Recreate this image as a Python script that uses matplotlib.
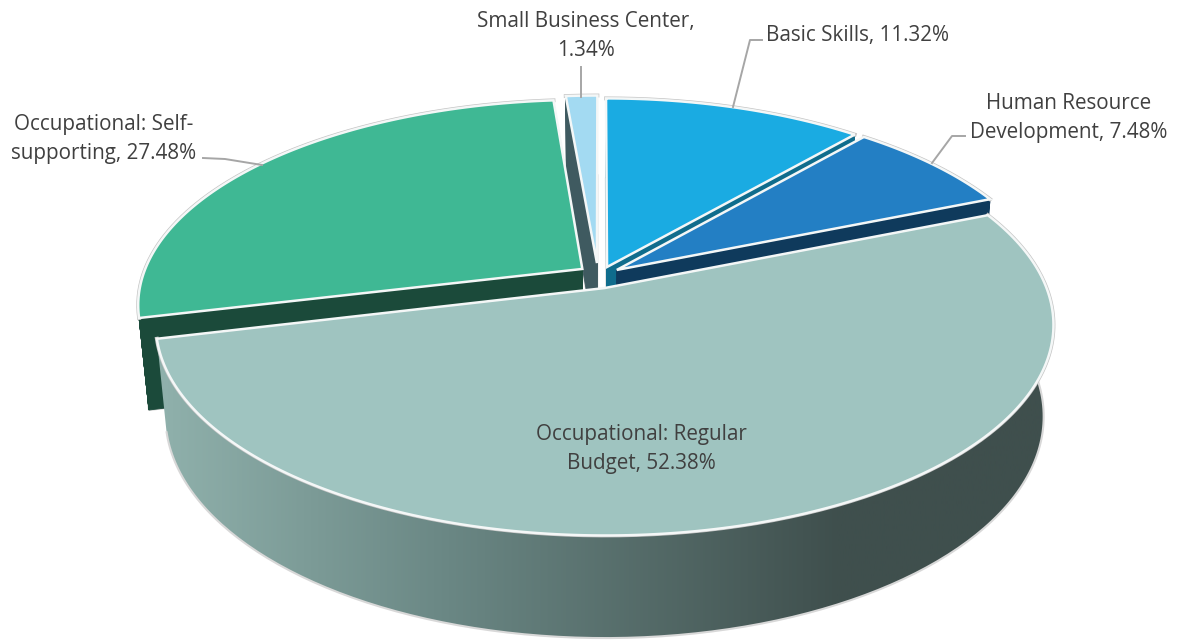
import numpy as np
import matplotlib
matplotlib.use("Agg")
import matplotlib.pyplot as plt
from matplotlib.patches import Polygon
from matplotlib.colors import LinearSegmentedColormap

# Data
categories = ["Basic Skills", "Human Resource Development", "Occupational: Regular Budget",
              "Occupational: Self-supporting", "Small Business Center"]
values = [11.32, 7.48, 52.38, 27.48, 1.34]
top_colors = ["#1aabe2", "#237fc4", "#9fc4c0", "#3fb894", "#a3daf2"]
wall_colors = ["#0f6c8c", "#0f3a5c", "#8fb0ab", "#1b4a3a", "#3f5a60"]
label_texts = ["Basic Skills, 11.32%", "Human Resource\nDevelopment, 7.48%",
               "Occupational: Regular\nBudget, 52.38%", "Occupational: Self-\nsupporting, 27.48%",
               "Small Business Center,\n1.34%"]
label_pos = [(857, 35), (1069, 118), (641, 449), (104, 139), (586, 36)]
leaders = [[(762, 40), (750, 40), (733, 107)],
           [(965, 136), (952, 136), (932, 163)],
           None,
           [(203, 158), (225, 159), (262, 165)],
           [(581, 67), (581, 97)]]
paint_order = [4, 0, 1, 3, 2]
# how far each slice is pulled out of the pie (disk units, x and depth)
offset_u = [0.016, 0.038, 0.010, -0.040, -0.007]
offset_v = [0.010, 0.025, 0.115, 0.020, -0.010]
radius_u = [0.975, 0.975, 0.985, 0.990, 1.000]

# Perspective pie layout
X0, Y0 = 600, 265
A, B, K = 440, 196.6, 0.17
M, C = 0.021, 91

def project(u, v, z=0.0):
    w = 1 - K * v + M * z
    return X0 + A * u / w, Y0 + (B * v + C * z) / w

fig = plt.figure(figsize=(11.78, 6.4), dpi=100)
ax = fig.add_axes([0, 0, 1, 1])
ax.set_xlim(0, 1178)
ax.set_ylim(640, 0)
ax.axis("off")
grad_cmap = LinearSegmentedColormap.from_list("wall", [(0, "#8fb0ab"), (0.42, "#6a8784"), (1, "#3f4f4d")])

cum = np.concatenate([[0], np.cumsum(values)]) / sum(values) * 2 * np.pi

def slice_geometry(i):
    th = np.linspace(cum[i], cum[i + 1], 200)
    cu, cv = offset_u[i], offset_v[i]
    return cu, cv, cu + radius_u[i] * np.sin(th), cv - np.cos(th)

for i in paint_order:
    cu, cv, au, av = slice_geometry(i)
    us = np.concatenate([[cu], au, [cu]])
    vs = np.concatenate([[cv], av, [cv]])
    tx, ty = project(us, vs, 0)
    bx, by = project(us, vs, 1)
    z = 10 + paint_order.index(i) * 3
    if i == 2:
        ox = np.concatenate([tx[1:-1], bx[1:-1][::-1]])
        oy = np.concatenate([ty[1:-1], by[1:-1][::-1]])
        clip = Polygon(np.c_[ox, oy], closed=True, transform=ax.transData, fc="none", ec="none")
        ax.add_patch(clip)
        grad = np.clip((np.linspace(0, 1178, 600) - 165) / 675, 0, 1)[None, :]
        im = ax.imshow(grad, extent=(0, 1178, 640, 0), aspect="auto", cmap=grad_cmap, vmin=0, vmax=1, zorder=z)
        im.set_clip_path(clip)
        ax.plot(bx[1:-1], by[1:-1], color="#d8d8d8", lw=1.5, zorder=z, solid_capstyle="round")
    else:
        for j in range(len(us) - 1):
            q = [(tx[j], ty[j]), (tx[j + 1], ty[j + 1]), (bx[j + 1], by[j + 1]), (bx[j], by[j])]
            ax.add_patch(Polygon(q, closed=True, fc=wall_colors[i], ec=wall_colors[i], lw=0.6, zorder=z))
        ax.plot(bx, by, color="#d0d0d0", lw=1.5, zorder=z - 0.5)
    ax.plot(tx[1:-1], ty[1:-1], color="#c4c4c4", lw=2.8, zorder=z + 0.5)
    ax.add_patch(Polygon(np.c_[tx, ty], closed=True, fc=top_colors[i], ec="#f4f7f7", lw=1.8,
                         joinstyle="miter", zorder=z + 1))

for txt, (lx, ly), ld in zip(label_texts, label_pos, leaders):
    ax.text(lx, ly, txt, ha="center", va="center", family="Open Sans", fontsize=14.85,
            color="#404040", linespacing=1.52, zorder=40)
    if ld:
        ax.plot(*zip(*ld), color="#a6a6a6", lw=1.4, zorder=39)

fig.savefig("out.png", dpi=100)
